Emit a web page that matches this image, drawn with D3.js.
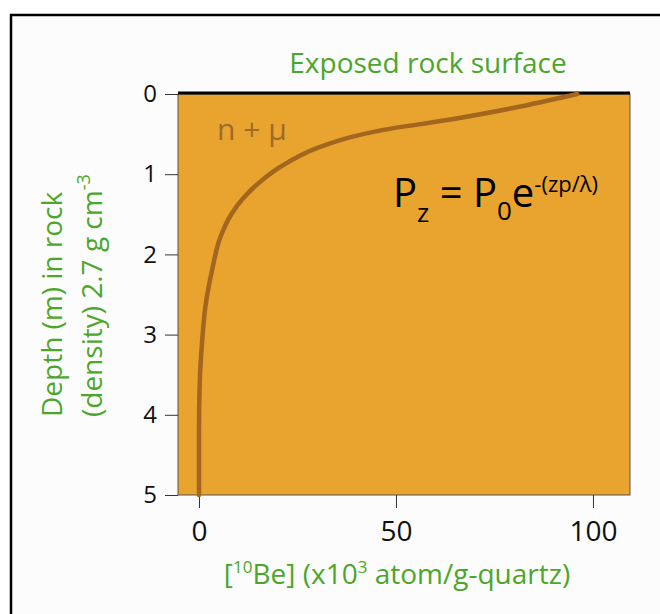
<!DOCTYPE html>
<html>
<head>
<meta charset="utf-8">
<script src="https://cdn.jsdelivr.net/npm/d3@7"></script>
<style>
  html, body { margin: 0; padding: 0; background: #fff; }
  svg { display: block; font-family: 'Open Sans', sans-serif; }
</style>
</head>
<body>
<div id="app"></div>
<script>
// depth (m) and 10Be concentration (x10^3 atom/g)
const depth = [0, 0.175, 0.325, 0.45, 0.54, 0.66, 0.91, 1.075, 1.3, 1.5, 1.79, 2.2, 2.66, 3.08, 3.58, 4.2, 5.0]
const conc = [96, 79.7, 63, 46.5, 38.3, 30.7, 20.6, 16, 11.2, 8.2, 5.4, 3.3, 1.6, 0.8, 0.2, 0, 0]
const depthTicks = [0, 1, 2, 3, 4, 5]
const concTicks = [0, 50, 100]

const W = 660, H = 614
const green = '#4ca62b'
const orange = '#e8a42f'
const brown = '#a2661f'

const svg = d3.select('#app').append('svg')
  .attr('width', W)
  .attr('height', H)

// frame
svg.append('rect')
  .attr('x', 11).attr('y', 15)
  .attr('width', W).attr('height', H)
  .attr('fill', '#fcfcfc')
svg.append('path')
  .attr('d', `M11,${H + 5}V15H${W + 5}`)
  .attr('fill', 'none')
  .attr('stroke', '#000')
  .attr('stroke-width', 2.5)

const x = d3.scaleLinear().domain([-5.33, 109.4]).range([178, 630])
const y = d3.scaleLinear().domain([0, 5]).range([94, 495])

// rock body
svg.append('rect')
  .attr('x', x.range()[0])
  .attr('y', y(0))
  .attr('width', x.range()[1] - x.range()[0])
  .attr('height', y(5) - y(0))
  .attr('fill', orange)
  .attr('stroke', '#555')
  .attr('stroke-width', 1)

// surface line
svg.append('line')
  .attr('x1', x.range()[0]).attr('x2', x.range()[1])
  .attr('y1', y(0) - 1).attr('y2', y(0) - 1)
  .attr('stroke', '#000')
  .attr('stroke-width', 3)

// axes
const yAxis = d3.axisLeft(y)
  .tickValues(depthTicks)
  .tickFormat(d3.format('d'))
  .tickSize(13)
  .tickPadding(8)

const yg = svg.append('g')
  .attr('transform', `translate(${x.range()[0]},0)`)
  .call(yAxis)
yg.select('.domain').remove()
yg.selectAll('line').attr('stroke', '#333')
yg.selectAll('text')
  .attr('fill', '#111')
  .style('font-size', '24px')
  .style('font-family', 'Open Sans')

const xAxis = d3.axisBottom(x)
  .tickValues(concTicks)
  .tickFormat(d3.format('d'))
  .tickSize(13)
  .tickPadding(13)

const xg = svg.append('g')
  .attr('transform', `translate(0,${y(5)})`)
  .call(xAxis)
xg.select('.domain').remove()
xg.selectAll('line').attr('stroke', '#333')
xg.selectAll('text')
  .attr('fill', '#111')
  .style('font-size', '28px')
  .style('font-family', 'Open Sans')

// curve
const line = d3.line()
  .x((d, i) => x(conc[i]))
  .y(d => y(d))
  .curve(d3.curveMonotoneY)

svg.append('path')
  .datum(depth)
  .attr('d', line)
  .attr('fill', 'none')
  .attr('stroke', brown)
  .attr('stroke-width', 4.5)
  .attr('stroke-linecap', 'round')

svg.append('text')
  .attr('x', 217).attr('y', 140)
  .attr('fill', '#a06a27')
  .style('font-size', '30px')
  .text('n + μ')

// title
svg.append('text')
  .attr('x', 428).attr('y', 73)
  .attr('text-anchor', 'middle')
  .attr('fill', green)
  .style('font-size', '28px')
  .text('Exposed rock surface')

// formula
const f = svg.append('text')
  .attr('x', 393).attr('y', 207)
  .attr('fill', '#000')
  .style('font-size', '40px')
f.append('tspan').text('P')
f.append('tspan').attr('dy', 15).style('font-size', '26px').text('z')
f.append('tspan').attr('dy', -15).text(' = P')
f.append('tspan').attr('dy', 13).style('font-size', '26px').text('0')
f.append('tspan').attr('dy', -13).text('e')
f.append('tspan').attr('dy', -15).style('font-size', '22px').text('-(zp/λ)')

// x label
const xl = svg.append('text')
  .attr('x', 397).attr('y', 584)
  .attr('text-anchor', 'middle')
  .attr('fill', green)
  .style('font-size', '28px')
xl.append('tspan').text('[')
xl.append('tspan').attr('dy', -11).style('font-size', '17px').text('10')
xl.append('tspan').attr('dy', 11).text('Be] (x10')
xl.append('tspan').attr('dy', -11).style('font-size', '17px').text('3')
xl.append('tspan').attr('dy', 11).text(' atom/g-quartz)')

// y label
const yl = svg.append('g')
  .attr('transform', 'translate(0,417) rotate(-90)')
  .attr('fill', green)
  .style('font-size', '28px')
yl.append('text')
  .attr('x', 0).attr('y', 62)
  .text('Depth (m) in rock')
const yl2 = yl.append('text')
  .attr('x', 0).attr('y', 102)
yl2.append('tspan').text('(density) 2.7 g cm')
yl2.append('tspan').attr('dy', -12).style('font-size', '18px').text('-3')
</script>
</body>
</html>
